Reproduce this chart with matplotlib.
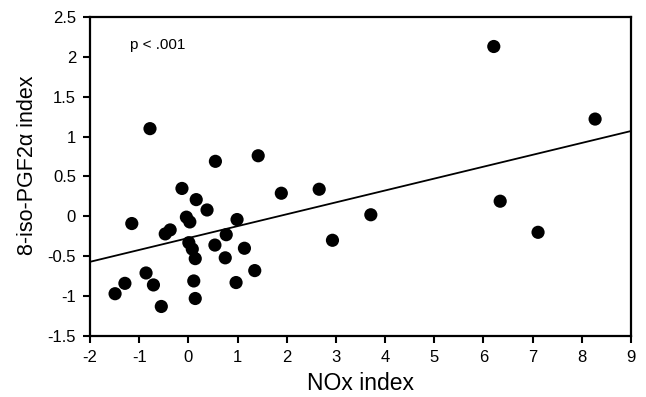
import matplotlib
matplotlib.use("Agg")
import matplotlib.pyplot as plt

# NOx index vs 8-iso-PGF2alpha index
nox = [-0.78, 0.55, 1.42, -0.13, 0.16, 0.38, 1.89, -1.15, -0.04, 0.03,
       0.99, -0.47, -0.37, 0.77, 0.01, 0.08, 0.14, 0.54, 1.14, 0.75,
       1.35, -0.86, -1.29, -1.49, -0.71, 0.11, 0.97, -0.55, 0.14, 6.21,
       8.27, 2.66, 2.93, 3.71, 6.34, 7.11]
iso = [1.10, 0.69, 0.76, 0.35, 0.21, 0.08, 0.29, -0.09, -0.01, -0.07,
       -0.04, -0.22, -0.17, -0.23, -0.33, -0.41, -0.53, -0.36, -0.40, -0.52,
       -0.68, -0.71, -0.84, -0.97, -0.86, -0.81, -0.83, -1.13, -1.03, 2.13,
       1.22, 0.34, -0.30, 0.02, 0.19, -0.20]

# regression line end points
fit_x = [-2, 9]
fit_y = [-0.57, 1.07]

xticks = list(range(-2, 10))
yticks = [-1.5, -1, -0.5, 0, 0.5, 1, 1.5, 2, 2.5]

plt.rcParams['font.family'] = ['Liberation Sans', 'DejaVu Sans']

fig = plt.figure(figsize=(6.46, 3.97), dpi=100)
ax = fig.add_axes([0.1393, 0.1537, 0.8375, 0.8035])

ax.plot(fit_x, fit_y, color='black', lw=1.3, zorder=2)
ax.scatter(nox, iso, s=90, color='black', edgecolors='none', zorder=3)

ax.set_xlim(-2, 9)
ax.set_ylim(-1.5, 2.5)
ax.set_xticks(xticks)
ax.set_yticks(yticks)
ax.set_xticklabels([str(t) for t in xticks])
ax.set_yticklabels(['-1.5', '-1', '-0.5', '0', '0.5', '1', '1.5', '2', '2.5'])

for s in ax.spines.values():
    s.set_linewidth(1.6)
ax.tick_params(direction='out', length=5, width=1.5, labelsize=12,
               pad=5)

ax.set_xlabel('NOx index', fontsize=16.5, labelpad=5)
ax.set_ylabel('8-iso-PGF2α index', fontsize=15.5)
ax.yaxis.set_label_coords(-0.097, 0.535)

ax.text(0.074, 0.912, 'p < .001', transform=ax.transAxes, fontsize=11,
        va='center', ha='left')

fig.savefig('out.png', dpi=100)
